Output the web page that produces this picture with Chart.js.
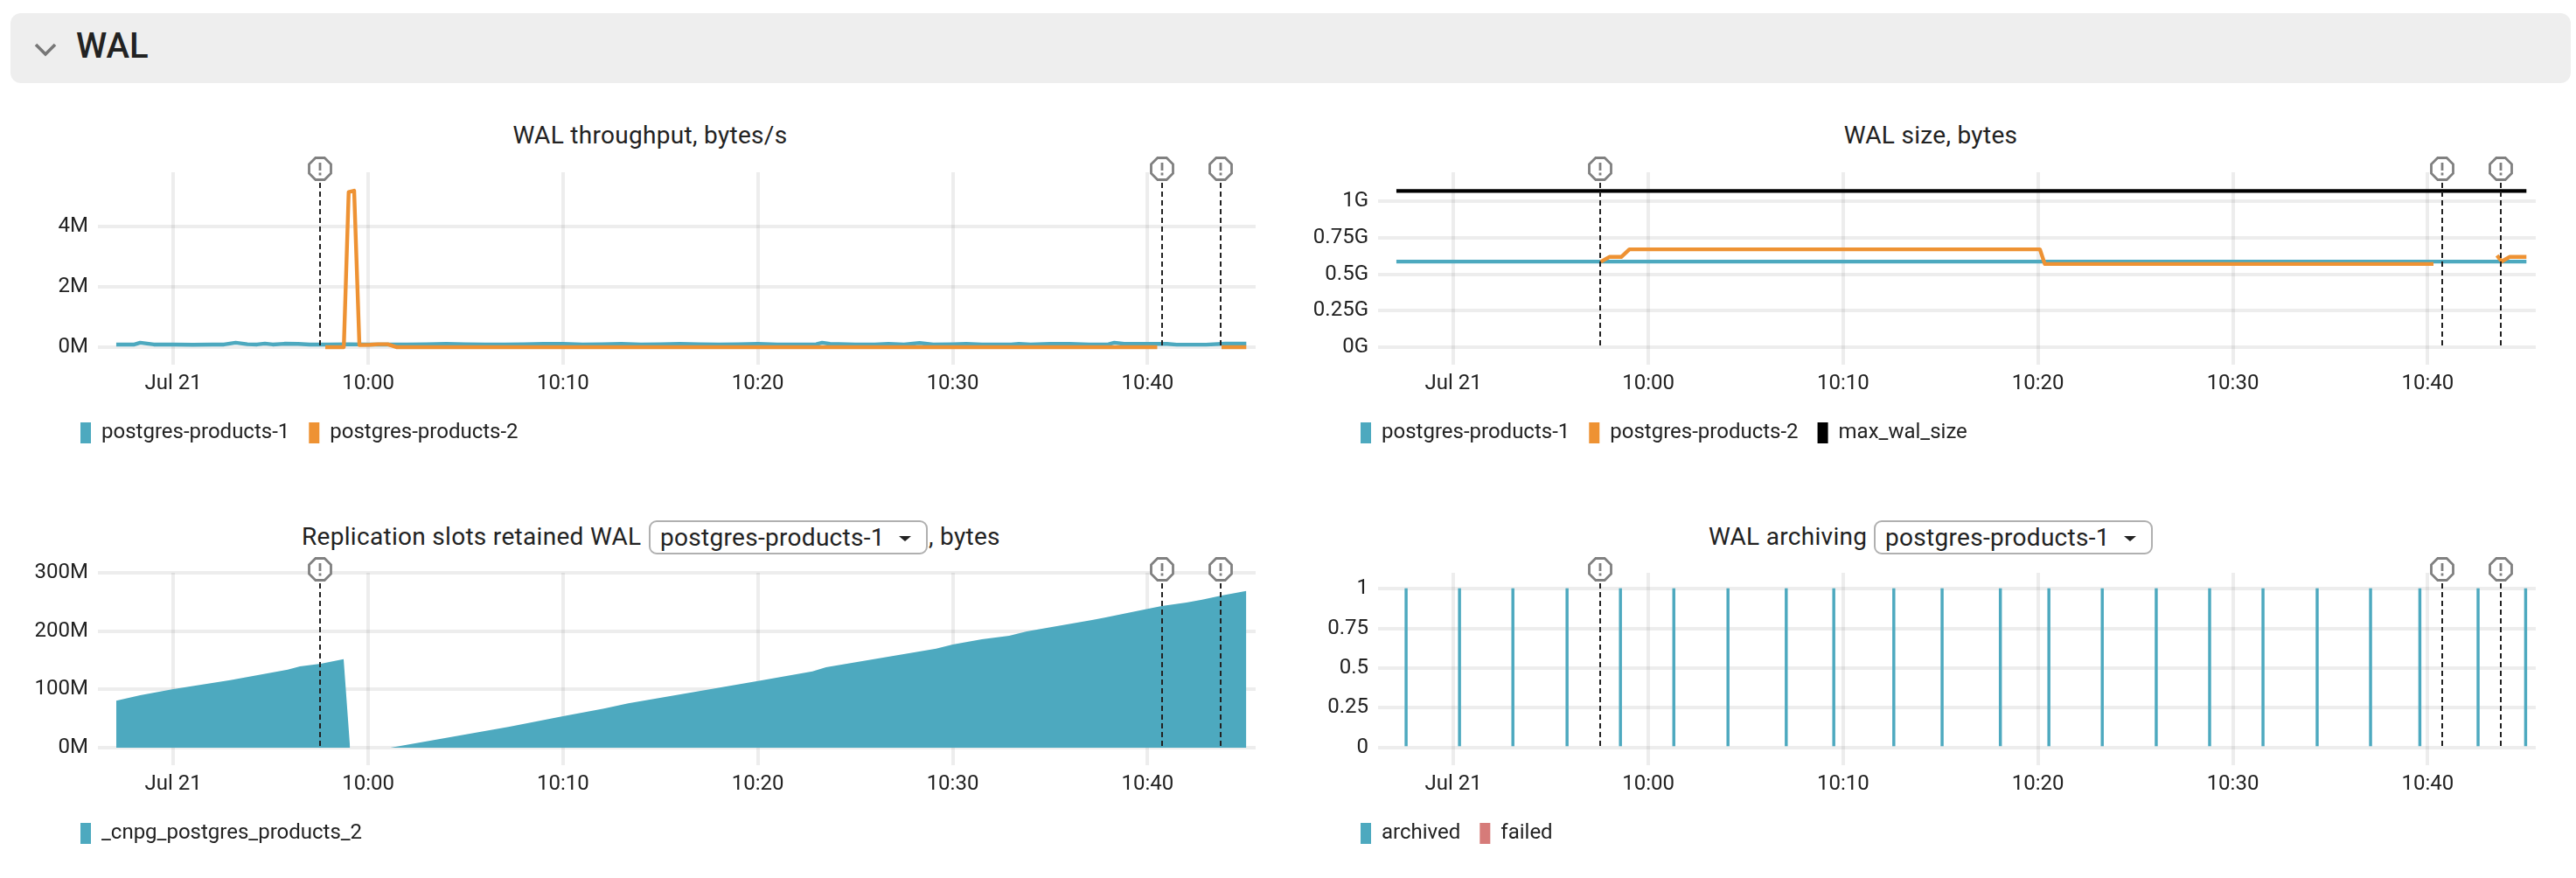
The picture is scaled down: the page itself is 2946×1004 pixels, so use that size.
<!DOCTYPE html>
<html>
<head>
<meta charset="utf-8">
<script src="https://cdn.jsdelivr.net/npm/chart.js@4"></script>
<style>
html,body{margin:0;padding:0;background:#fff;width:2946px;height:1004px;overflow:hidden;font-family:Roboto,sans-serif;color:#222}
#hdr{position:absolute;left:12px;top:15px;width:2928px;height:80px;background:#eee;border-radius:12px}
#hdr svg{position:absolute;left:0;top:-15px}
#hdr b{position:absolute;left:75px;top:0;line-height:80px;font-size:40px;font-weight:500;color:#222;margin-top:-2px}
canvas{position:absolute;display:block}
.t{position:absolute;font-size:28px;letter-spacing:0.3px;line-height:40px;white-space:pre;transform:translateX(-50%);color:#222}
.sel{position:absolute;box-sizing:border-box;height:39px;border:2px solid #b0b0b0;border-radius:9px;background:#fff;font-size:28px;letter-spacing:0.3px;line-height:36px;color:#222;padding-left:11px;white-space:pre}
.sel i{position:absolute;width:0;height:0;border-left:7px solid transparent;border-right:7px solid transparent;border-top:6px solid #222}
.p{position:absolute;font-size:28px;letter-spacing:0.3px;line-height:40px;white-space:pre;color:#222}
</style>
</head>
<body>
<div id="hdr"><svg width="100" height="100"><polyline points="29,51 40,62 51,51" fill="none" stroke="#777" stroke-width="3.6"/></svg><b>WAL</b></div>

<div class="t" style="left:743.5px;top:135px">WAL throughput, bytes/s</div>
<div class="t" style="left:2208px;top:135px">WAL size, bytes</div>
<div class="p" style="left:345px;top:594px">Replication slots retained WAL</div>
<div class="sel" style="left:742px;top:595px;width:319px">postgres-products-1<i style="left:284px;top:16px"></i></div>
<div class="p" style="left:1062px;top:594px">, bytes</div>
<div class="p" style="left:1954px;top:594px">WAL archiving</div>
<div class="sel" style="left:2143px;top:595px;width:319px">postgres-products-1<i style="left:284px;top:16px"></i></div>

<canvas id="c1" width="1440" height="347" style="left:0;top:170px"></canvas>
<canvas id="c2" width="1440" height="347" style="left:1464px;top:170px"></canvas>
<canvas id="c3" width="1440" height="347" style="left:0;top:628px"></canvas>
<canvas id="c4" width="1440" height="347" style="left:1464px;top:628px"></canvas>

<script>
// ---- time axis (minutes relative to 10:00) ----
const xTickMinutes = [-10, 0, 10, 20, 30, 40];
const xTickLabels = ['Jul 21', '10:00', '10:10', '10:20', '10:30', '10:40'];
const annotationMinutes = [-2.45, 40.75, 43.77];

// ---- WAL throughput (M bytes/s) ----
const throughputYTicks = [0, 2, 4];
const throughputYLabels = ['0M', '2M', '4M'];
const throughput1Times = [-12.93,-12,-11.7,-11,-10,-9,-8,-7.4,-6.8,-6.2,-5.7,-5.3,-4.9,-4.3,-3.6,-3,-2,-1,0,1,2,3,4,5,6,7,8,9,10,11,12,13,14,15,16,17,18,19,20,21,22,23,23.3,23.7,25,26,26.7,27.5,28.3,29,30,30.7,31.5,33,33.4,34,35,36,37,38,38.3,38.8,39,40,41,41.5,42,43,44,45.07];
const throughput1Values = [0.09,0.09,0.15,0.09,0.09,0.08,0.09,0.09,0.15,0.1,0.09,0.12,0.09,0.115,0.11,0.09,0.09,0.1,0.09,0.09,0.09,0.1,0.11,0.1,0.09,0.09,0.1,0.11,0.11,0.09,0.1,0.11,0.09,0.1,0.11,0.1,0.09,0.1,0.11,0.09,0.09,0.1,0.15,0.11,0.09,0.09,0.11,0.09,0.14,0.09,0.1,0.11,0.09,0.09,0.11,0.09,0.11,0.11,0.09,0.1,0.15,0.11,0.11,0.11,0.11,0.085,0.085,0.085,0.115,0.115];
const throughput2Times = [-2.2,-1.25,-1.0,-0.72,-0.45,0.1,0.5,1.0,1.48,40.5,41,43.8,45.07];
const throughput2Values = [0,0,5.15,5.2,0.07,0.08,0.1,0.1,0,0,null,0,0];

// ---- WAL size (G bytes) ----
const sizeYTicks = [0, 0.25, 0.5, 0.75, 1];
const sizeYLabels = ['0G', '0.25G', '0.5G', '0.75G', '1G'];
const sizeTimes = [-12.93, 45.07];
const size1Values = [0.586, 0.586];
const size2Times = [-2.44,-2.0,-1.39,-0.97,20.1,20.35,40.3,41,43.56,43.8,44.2,45.07];
const size2Values = [0.585,0.618,0.618,0.67,0.67,0.57,0.57,null,0.628,0.587,0.618,0.618];
const maxWalValues = [1.07, 1.07];

// ---- Replication slots retained WAL (M bytes) ----
const slotsYTicks = [0, 100, 200, 300];
const slotsYLabels = ['0M', '100M', '200M', '300M'];
const slotsTimes = [-12.93,-11.7,-10,-7.08,-4.13,-3.5,-2.44,-1.26,-0.93,0,1.14,7.25,10,12.1,13.35,20,22.8,23.5,29.15,30,31.5,32.9,33.8,37.15,37.8,40,40.73,41.6,42,42.8,43.8,45.07];
const slotsValues = [80.6,90,100.5,116,134,139.5,144,152,0,null,0,36,54,67,76,114.5,131,138,170,177,186,192,199.5,219,223,238,243,247,249,254,261,269];

// ---- WAL archiving ----
const archivingYTicks = [0, 0.25, 0.5, 0.75, 1];
const archivingYLabels = ['0', '0.25', '0.5', '0.75', '1'];
const archivedTimes = [-12.43,-9.69,-6.95,-4.17,-1.43,1.31,4.09,7.08,9.52,12.6,15.08,18.07,20.56,23.3,26.07,28.81,31.55,34.33,37.07,39.6,42.59,45.03];
const archivedValues = [1,1,1,1,1,1,1,1,1,1,1,1,1,1,1,1,1,1,1,1,1,1];
const failedTimes = [];
const failedValues = [];

const BLUE = '#4da9bf', ORANGE = '#ee9233', BLACK = '#000000', RED = '#d67b79';
const GRID = 'rgba(0,0,0,0.07)';
const FONT = {family: 'Roboto', size: 24};
const pts = (xs, ys) => xs.map((x, i) => ({x, y: ys[i]}));

const annotationPlugin = {
  id: 'walAnnotations',
  afterDatasetsDraw(chart) {
    const {ctx, chartArea} = chart, xs = chart.scales.x, ys = chart.scales.y;
    annotationMinutes.forEach(m => {
      const x = Math.round(xs.getPixelForValue(m));
      const cy = chartArea.top - 4;
      ctx.save();
      ctx.strokeStyle = '#222'; ctx.lineWidth = 2; ctx.setLineDash([6, 4]);
      ctx.beginPath(); ctx.moveTo(x, chartArea.top + 12); ctx.lineTo(x, ys.getPixelForValue(0)); ctx.stroke();
      ctx.setLineDash([]);
      const r = 12.5, a = r * 0.414;
      ctx.beginPath();
      [[-a,-r],[a,-r],[r,-a],[r,a],[a,r],[-a,r],[-r,a],[-r,-a]].forEach((p, i) => i ? ctx.lineTo(x+p[0], cy+p[1]) : ctx.moveTo(x+p[0], cy+p[1]));
      ctx.closePath();
      ctx.fillStyle = '#fff'; ctx.fill();
      ctx.strokeStyle = '#808080'; ctx.lineWidth = 2.8; ctx.stroke();
      ctx.beginPath(); ctx.moveTo(x, cy-7); ctx.lineTo(x, cy+2); ctx.moveTo(x, cy+4.5); ctx.lineTo(x, cy+7.5);
      ctx.lineWidth = 2.8; ctx.stroke();
      ctx.restore();
    });
  }
};
const legendPlugin = {
  id: 'walLegendPlace',
  afterLayout(chart) { chart.legend.left = chart.chartArea.left - 42; }
};

function makeChart(id, type, datasets, yMin, yMax, yTicks, yLabels) {
  new Chart(document.getElementById(id), {
    type,
    data: {datasets},
    plugins: [annotationPlugin, legendPlugin],
    options: {
      responsive: false, animation: false, devicePixelRatio: 1,
      layout: {padding: {top: 27, right: 4, left: 0, bottom: 0}},
      elements: {point: {radius: 0}, line: {tension: 0}},
      plugins: {
        tooltip: {enabled: false},
        title: {display: false},
        legend: {
          position: 'bottom', align: 'start',
          labels: {boxWidth: 12, boxHeight: 24, padding: 22, color: '#222', font: FONT,
                   sort: (a, b) => a.datasetIndex - b.datasetIndex,
                   generateLabels: c => Chart.defaults.plugins.legend.labels.generateLabels(c).map(i => Object.assign(i, {lineWidth: 0, strokeStyle: 'rgba(0,0,0,0)'}))}
        }
      },
      scales: {
        x: {
          type: 'linear', min: -13.87, max: 45.55, offset: false,
          border: {display: false},
          grid: {color: GRID, lineWidth: 4, drawTicks: false, offset: false},
          afterBuildTicks: s => { s.ticks = xTickMinutes.map(value => ({value})); },
          afterFit: s => { s.height = 44; },
          ticks: {autoSkip: false, maxRotation: 0, padding: 8, color: '#222', font: FONT,
                  callback: v => xTickLabels[xTickMinutes.indexOf(v)]}
        },
        y: {
          type: 'linear', min: yMin, max: yMax,
          border: {display: false},
          grid: {color: GRID, lineWidth: 4, drawTicks: false},
          afterBuildTicks: s => { s.ticks = yTicks.map(value => ({value})); },
          afterFit: s => { s.width = 112; },
          ticks: {padding: 11, color: '#222', font: FONT,
                  callback: v => yLabels[yTicks.indexOf(v)]}
        }
      }
    }
  });
}
const line = (label, color, data, order, extra) => Object.assign({
  label, data, order, borderColor: color, backgroundColor: color, borderWidth: 4.4,
  pointRadius: 0, fill: false, spanGaps: false, borderJoinStyle: 'round'
}, extra || {});

makeChart('c1', 'line', [
  line('postgres-products-1', BLUE, pts(throughput1Times, throughput1Values), 2),
  line('postgres-products-2', ORANGE, pts(throughput2Times, throughput2Values), 1)
], -0.58, 5.81, throughputYTicks, throughputYLabels);

makeChart('c2', 'line', [
  line('postgres-products-1', BLUE, pts(sizeTimes, size1Values), 2),
  line('postgres-products-2', ORANGE, pts(size2Times, size2Values), 1),
  line('max_wal_size', BLACK, pts(sizeTimes, maxWalValues), 3)
], -0.12, 1.198, sizeYTicks, sizeYLabels);

makeChart('c3', 'line', [
  line('_cnpg_postgres_products_2', BLUE, pts(slotsTimes, slotsValues), 1, {fill: 'origin', borderWidth: 0})
], -30, 300, slotsYTicks, slotsYLabels);

makeChart('c4', 'bar', [
  {label: 'archived', data: pts(archivedTimes, archivedValues), backgroundColor: BLUE, borderWidth: 0, barThickness: 2.8, grouped: false, order: 2},
  {label: 'failed', data: pts(failedTimes, failedValues), backgroundColor: RED, borderWidth: 0, barThickness: 2.8, grouped: false, order: 1}
], -0.11, 1.099, archivingYTicks, archivingYLabels);
</script>
</body>
</html>
